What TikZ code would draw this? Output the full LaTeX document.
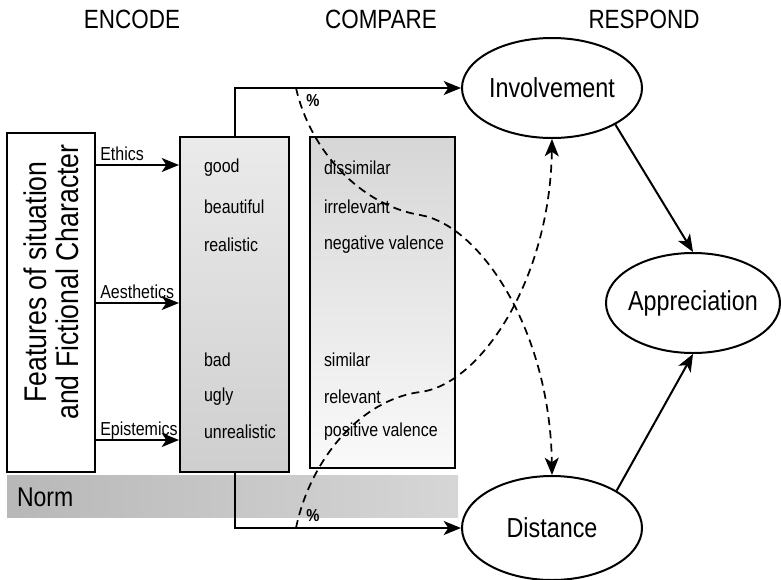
\documentclass[tikz,border=0pt]{standalone}
\usepackage{fontspec}
\setmainfont[FakeStretch=0.85]{Liberation Sans}
\usetikzlibrary{arrows.meta,shapes.geometric}

\begin{document}
\begin{tikzpicture}[x=0.75pt,y=-0.75pt,line width=1.5pt,
  arr/.style={-{Stealth[length=13pt,width=10.5pt,inset=3.5pt]}},
  dasharr/.style={arr,line width=1.3pt,dash pattern=on 6pt off 4pt},
  hdr/.style={font=\fontsize{19.8}{22}\selectfont},
  lbl/.style={font=\fontsize{14.1}{16}\selectfont,inner sep=0pt,anchor=west},
  pct/.style={font=\bfseries\fontsize{13}{15}\selectfont,inner sep=0pt},
  oval/.style={draw,ellipse,inner xsep=-6pt,inner ysep=0pt,
    font=\fontsize{20.6}{23}\selectfont},
  panel/.style={draw,rectangle,inner sep=0pt}]
  \useasboundingbox (0,0) rectangle (781,579);

  % Headings
  \node[hdr] (encode)  at (132,19) {ENCODE};
  \node[hdr] (compare) at (381,19) {COMPARE};
  \node[hdr] (respond) at (644,19) {RESPOND};

  % Norm band
  \fill[left color=black!28,right color=black!16] (7,475) rectangle (458,517);
  \node[font=\fontsize{20.3}{23}\selectfont,inner sep=0pt,anchor=west] (norm) at (16,497) {Norm};

  % Boxes
  \node[panel,fill=white,minimum width=66pt,minimum height=254.25pt] (feat) at (51,302.5) {};
  \node[rotate=90,align=center,font=\fontsize{23.5}{24}\selectfont] (feattxt) at (51,282)
    {Features of situation\\and Fictional Character};
  \node[panel,top color=black!8,middle color=black!3,bottom color=black!19,
    minimum width=81.75pt,minimum height=251.25pt] (enc) at (234.5,304.5) {};
  \node[panel,top color=black!16,bottom color=black!2,
    minimum width=108.75pt,minimum height=248.25pt] (cmp) at (382.5,302.5) {};

  % Box labels
  \foreach \y/\t [count=\i] in {168/good,207/beautiful,245/realistic,360/bad,397/ugly,432/unrealistic}
    \node[lbl] (e\i) at (203,\y) {\t};
  \foreach \y/\t [count=\i] in {168/dissimilar,207/irrelevant,245/negative valence,360/similar,397/relevant,432/positive valence}
    \node[lbl] (c\i) at (323,\y) {\t};

  % Inputs
  \foreach \y/\t in {165/Ethics,303/Aesthetics,440/Epistemics}
    \draw[arr] (feat.east |- 0,\y) -- node[lbl,pos=0,anchor=base west,xshift=2.5pt,yshift=3.75pt] (\t) {\t} (enc.west |- 0,\y);

  % Responses
  \node[oval,minimum width=135pt,minimum height=75pt] (inv) at (552,88) {Involvement};
  \node[oval,minimum width=130.5pt,minimum height=75pt] (app) at (693,303) {Appreciation};
  \node[oval,minimum width=135pt,minimum height=78pt] (dist) at (552,528) {Distance};

  \draw[arr] (enc.north) |- (inv.west);
  \draw[arr] (enc.south) |- (dist.west);
  \draw[arr] (inv.-30) -- (app.north);
  \draw[arr] (dist.30) -- (app.south);

  % Cross-over paths
  \coordinate (ptop) at (inv.west -| 296,0);
  \coordinate (pbot) at (dist.west -| 296,0);
  \draw[dasharr] (ptop) .. controls (310,150) and (360,205) .. (420,215)
    .. controls (480,225) and (550,330) .. (dist.north);
  \draw[dasharr] (pbot) .. controls (310,460) and (360,400) .. (420,392)
    .. controls (480,385) and (550,280) .. (inv.south);
  \node[pct] (pcttop) at (313,101) {\%};
  \node[pct] (pctbot) at (313,516) {\%};
\end{tikzpicture}
\end{document}
